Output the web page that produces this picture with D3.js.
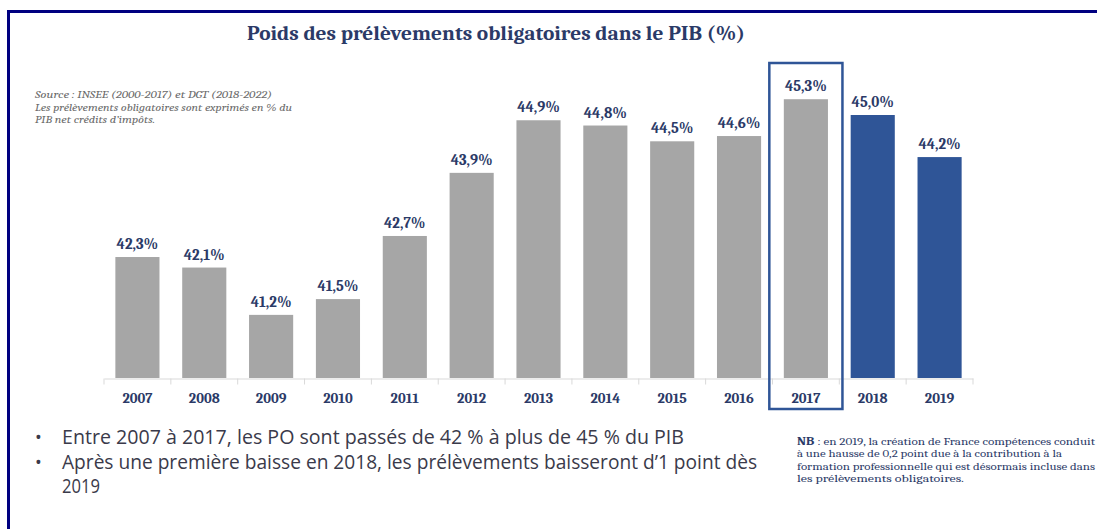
<!DOCTYPE html>
<html><head><meta charset="utf-8">
<script src="https://cdn.jsdelivr.net/npm/d3@7"></script>
<style>body{margin:0;background:#fff;}svg{display:block;}</style>
</head><body>
<svg id="c" width="1097" height="529"></svg>
<script>
const years = ["2007","2008","2009","2010","2011","2012","2013","2014","2015","2016","2017","2018","2019"];
const values = [42.3,42.1,41.2,41.5,42.7,43.9,44.9,44.8,44.5,44.6,45.3,45.0,44.2];
const forecastYears = ["2018","2019"];
const highlightYear = "2017";
const labels = values.map(v => v.toFixed(1).replace(".", ",") + "%");
const title = "Poids des prélèvements obligatoires dans le PIB (%)";
const sourceLines = ["Source : INSEE (2000-2017) et DGT (2018-2022)",
  "Les prélèvements obligatoires sont exprimés en % du",
  "PIB net crédits d’impôts."];
const bullets = ["Entre 2007 à 2017, les PO sont passés de 42 % à plus de 45 % du PIB",
  "Après une première baisse en 2018, les prélèvements baisseront d’1 point dès",
  "2019"];
const nbLines = ["en 2019, la création de France compétences conduit",
  "à une hausse de 0,2 point due à la contribution à la",
  "formation professionnelle qui est désormais incluse dans",
  "les prélèvements obligatoires."];

const svg = d3.select("#c");
const navy = "#2B3A67";
const serif = "Cambria, 'Liberation Serif', 'DejaVu Serif', serif";
const narrow = "'Open Sans', 'Liberation Sans', sans-serif";

// frame
svg.append("path").attr("d","M8.5,529 V11.5 H1097").attr("fill","none").attr("stroke","#000080").attr("stroke-width",3);

const x = d3.scaleBand().domain(years).range([104, 973]).paddingInner(0.34).paddingOuter(0.17);
const y = d3.scaleLinear().domain([40, 46]).range([378, 62.4]);

// title
svg.append("text").attr("x",496).attr("y",40).attr("text-anchor","middle")
  .attr("font-family",serif).attr("font-weight","bold").attr("font-size",20)
  .attr("fill",navy).attr("textLength",498).attr("lengthAdjust","spacingAndGlyphs").text(title);

// source
const srcWidths = [237, 257, 120];
svg.append("g").selectAll("text").data(sourceLines).join("text")
  .attr("x",35).attr("y",(d,i)=>98+i*12.6).attr("font-family",serif).attr("font-style","italic")
  .attr("font-size",11).attr("fill","#6b6b6b")
  .attr("textLength",(d,i)=>srcWidths[i]).attr("lengthAdjust","spacingAndGlyphs").text(d=>d);

// bars
svg.append("g").selectAll("rect").data(years).join("rect")
  .attr("x",d=>x(d)).attr("width",x.bandwidth())
  .attr("y",(d,i)=>y(values[i])).attr("height",(d,i)=>y(40)-y(values[i]))
  .attr("fill",d=>forecastYears.includes(d)?"#2F5597":"#A6A6A6");

// value labels
svg.append("g").selectAll("text").data(years).join("text")
  .attr("x",d=>x(d)+x.bandwidth()/2).attr("y",(d,i)=>y(values[i])-8)
  .attr("text-anchor","middle").attr("font-family",serif).attr("font-weight","bold")
  .attr("font-size",15).attr("fill",navy).text((d,i)=>labels[i]);

// axis
const axis = d3.axisBottom(x).tickSize(0).tickPadding(14);
const ag = svg.append("g").attr("transform","translate(0,378.5)").call(axis);
ag.select(".domain").attr("stroke","#D9D9D9");
ag.selectAll("text").attr("font-family",serif).attr("font-weight","bold").attr("font-size",14.5).attr("fill",navy);
const step = x.step();
const bounds = d3.range(years.length+1).map(i => 104 + i*step);
ag.selectAll(".sep").data(bounds).join("line").attr("class","sep")
  .attr("x1",d=>d).attr("x2",d=>d).attr("y1",0).attr("y2",6).attr("stroke","#D9D9D9");

// highlight box
svg.append("rect").attr("x",x(highlightYear)-14.5).attr("y",63).attr("width",x.bandwidth()+29).attr("height",346)
  .attr("fill","none").attr("stroke","#2F5597").attr("stroke-width",2.5);

// bullets
const bg = svg.append("g");
const bulletWidths = [622, 695, 38];
bullets.forEach((t,i)=>{
  if(i<2) bg.append("text").attr("x",35).attr("y",444+i*24.5).attr("font-family",narrow).attr("font-size",18).attr("fill","#3a3a4a").text("•");
  bg.append("text").attr("x",62).attr("y",444+i*24.5).attr("font-family",narrow).attr("font-size",19.5)
    .attr("fill","#3a3a4a").attr("textLength",bulletWidths[i]).attr("lengthAdjust","spacingAndGlyphs").text(t);
});

// NB
const nb = svg.append("g");
const nbWidths = [298, 265, 298, 167];
nbLines.forEach((t,i)=>{
  const tx = nb.append("text").attr("x",797).attr("y",445+i*12.4).attr("font-family",serif)
    .attr("font-size",11).attr("fill",navy).attr("textLength",nbWidths[i]).attr("lengthAdjust","spacingAndGlyphs");
  if(i===0){ tx.append("tspan").attr("font-weight","bold").text("NB"); tx.append("tspan").text(" : "+t); }
  else tx.text(t);
});
</script>
</body></html>
